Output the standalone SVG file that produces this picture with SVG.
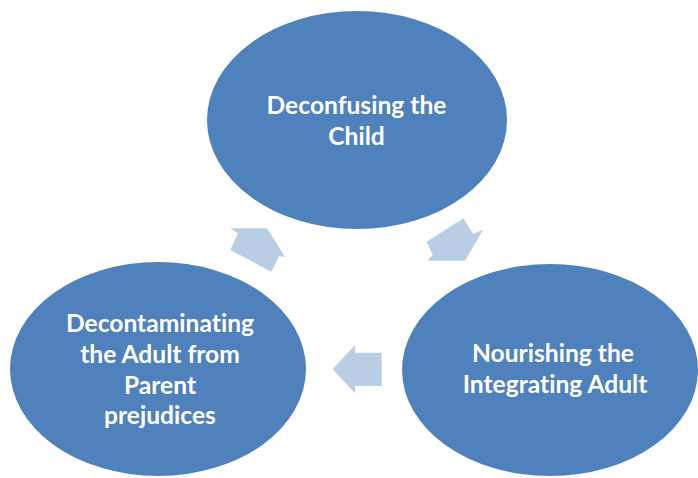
<svg xmlns="http://www.w3.org/2000/svg" width="698" height="478" viewBox="0 0 698 478">
  <style>
    .node { fill: #4F81BD; }
    .arrow { fill: #B9CDE5; }
    .label { font-family: Lato, "Open Sans", "Liberation Sans", sans-serif; font-weight: bold; font-size: 24.6px; fill: #FFFFFF; text-anchor: middle; font-variant-ligatures: none; font-feature-settings: "liga" 0, "clig" 0; }
  </style>
  <rect width="698" height="478" fill="#FFFFFF"/>

  <!-- cycle connectors -->
  <g id="connectors">
    <polygon class="arrow" points="463.3,218.3 473.3,234 483.3,229.3 465,260.7 427.3,260.7 432.7,255 426.7,241.7"/>
    <polygon class="arrow" points="381.7,352.7 355,352.7 355,345 332.7,369.3 355,393.3 355,386 381.7,386"/>
    <polygon class="arrow" points="271.3,271.7 230.3,250 238,233.3 230.3,228.3 267,228.3 285.3,257.3 279.3,256"/>
  </g>

  <g id="node-child">
    <ellipse class="node" cx="357" cy="120" rx="150" ry="109"/>
    <text class="label" x="356.5" y="114">Deconfusing the</text>
    <text class="label" x="356.5" y="145">Child</text>
  </g>

  <g id="node-integrating">
    <ellipse class="node" cx="550" cy="370" rx="148" ry="106"/>
    <text class="label" x="553" y="362">Nourishing the</text>
    <text class="label" x="555" y="393">Integrating Adult</text>
  </g>

  <g id="node-decontaminating">
    <ellipse class="node" cx="158" cy="369" rx="148" ry="107"/>
    <text class="label" x="160" y="332">Decontaminating</text>
    <text class="label" x="160" y="363">the Adult from</text>
    <text class="label" x="160" y="394">Parent</text>
    <text class="label" x="160" y="424">prejudices</text>
  </g>
</svg>
